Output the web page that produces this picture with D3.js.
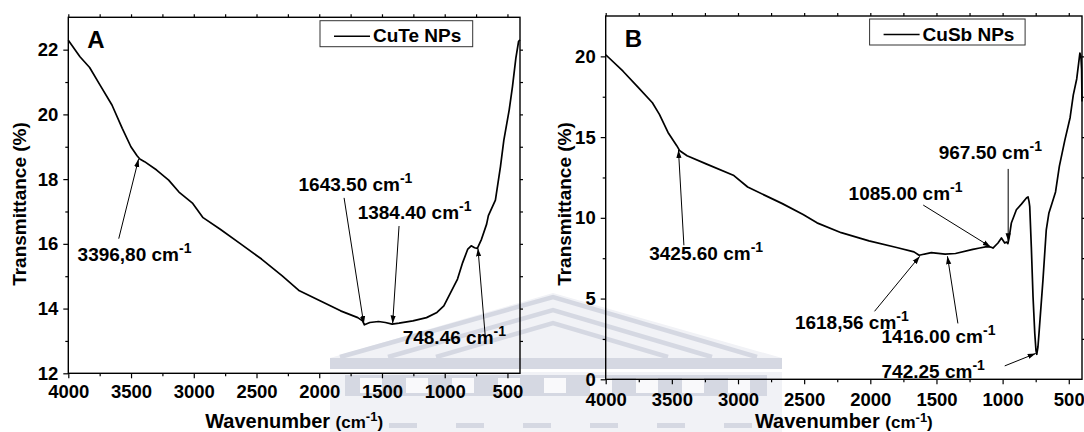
<!DOCTYPE html>
<html><head><meta charset="utf-8">
<script src="https://cdn.jsdelivr.net/npm/d3@7"></script>
<style>
html,body{margin:0;padding:0;background:#fff;}
svg{display:block;font-family:"Liberation Sans",Arial,sans-serif;font-weight:bold;}
</style></head><body>
<svg id="chart" width="1084" height="432"></svg>
<script>
// ---------- data ----------
const cuteWavenumber = [4000,3907,3830,3748,3652,3570,3501,3452,3430,3392,3296,3200,3118,3008,2926,2789,2624,2460,2295,2158,1994,1830,1693,1655,1640,1597,1528,1473,1419,1364,1254,1145,1062,1007,953,898,857,816,789,762,740,707,666,652,596,556,529,486,460,433,411,400];
const cuteTransmittance = [22.29,21.78,21.45,20.91,20.29,19.57,19.0,18.72,18.62,18.54,18.28,17.97,17.6,17.25,16.81,16.45,15.99,15.53,15.01,14.55,14.24,13.93,13.72,13.62,13.5,13.57,13.6,13.57,13.52,13.55,13.62,13.72,13.88,14.08,14.49,14.91,15.42,15.84,15.94,15.88,15.86,16.14,16.61,16.87,17.35,18.38,19.2,20.14,20.86,21.74,22.26,22.3];

const cusbWavenumber = [4000,3869,3751,3647,3594,3529,3463,3440,3385,3241,3031,2927,2796,2665,2508,2403,2220,2010,1801,1670,1631,1539,1435,1356,1225,1173,1120,1085,1073,1035,1009,984,970,960,950,934,896,858,820,808,800,795,783,770,757,748,742,733,723,695,670,650,623,600,571,530,490,466,440,425,416,408,403,400];
const cusbTransmittance = [20.1,19.08,18.05,17.13,16.41,15.29,14.47,14.15,13.85,13.34,12.62,11.91,11.39,10.88,10.2,9.69,9.08,8.57,8.16,7.89,7.68,7.85,7.75,7.79,8.05,8.13,8.22,8.18,8.13,8.44,8.75,8.44,8.5,8.4,8.8,9.68,10.5,10.85,11.23,11.3,11.0,10.7,8.2,5.1,2.85,1.8,1.55,2.0,3.06,6.16,9.26,10.3,11.0,11.6,13.2,14.8,16.2,17.6,18.6,19.6,20.2,20.0,19.2,17.2];

const wavenumberTicks = [4000,3500,3000,2500,2000,1500,1000,500];
const wavenumberMinorTicks = [3750,3250,2750,2250,1750,1250,750];
const cuteYTicks = [12,14,16,18,20,22];
const cuteYMinorTicks = [13,15,17,19,21];
const cusbYTicks = [0,5,10,15,20];
const cusbYMinorTicks = [2.5,7.5,12.5,17.5];

const seriesNames = ["CuTe NPs","CuSb NPs"];
const panelLetters = ["A","B"];

const cutePeakLabels = ["3396,80","1643.50","1384.40","748.46"];
const cutePeakTips = [[3440,18.62],[1645,13.52],[1415,13.54],[735,15.86]];
const cusbPeakLabels = ["3425.60","967.50","1085.00","1618,56","1416.00","742.25"];
const cusbPeakTips = [[3450,14.2],[958,8.55],[1090,8.2],[1626,7.62],[1417,7.62],[750,1.6]];

// ---------- layout (data units for label anchors and arrow tails) ----------
const cuteLabelLayout = [
  {tx:3926,ty:15.47,ax:3598,ay:16.16},
  {tx:2165,ty:17.63,ax:1802,ay:17.42},
  {tx:1694,ty:16.76,ax:1364,ay:16.55},
  {tx:1335,ty:12.92,ax:678,ay:13.19}
];
const cusbLabelLayout = [
  {tx:3671,ty:7.38,ax:3409,ay:8.3},
  {tx:1483,ty:13.63,ax:958,ay:13.03},
  {tx:2164,ty:11.09,ax:1600,ay:10.79},
  {tx:2570,ty:3.13,ax:1968,ay:4.21},
  {tx:1915,ty:2.27,ax:1338,ay:3.46},
  {tx:1915,ty:0.1,ax:984,ay:0.83}
];

const panels = [
  {left:68.3,right:520,top:17.3,bottom:373.3,yDomain:[12,23],yTicks:cuteYTicks,yMinor:cuteYMinorTicks,rightStep:1,
   xs:cuteWavenumber,ys:cuteTransmittance,name:seriesNames[0],letter:panelLetters[0],
   labels:cutePeakLabels,tips:cutePeakTips,layout:cuteLabelLayout,
   legend:{x:320,y:20.7,w:152.7,h:26},ytitleX:26,xPad:7,xTitleY:428,supDy:7},
  {left:605.7,right:1082,top:16,bottom:379.3,yDomain:[0,22.5],yTicks:cusbYTicks,yMinor:cusbYMinorTicks,rightStep:2.5,
   xs:cusbWavenumber,ys:cusbTransmittance,name:seriesNames[1],letter:panelLetters[1],
   labels:cusbPeakLabels,tips:cusbPeakTips,layout:cusbLabelLayout,
   legend:{x:869.6,y:19,w:155.5,h:26},ytitleX:571,xPad:8.5,xTitleY:428,supDy:6}
];

const svg = d3.select("#chart");

// ---------- faint watermark ----------
const wm = svg.append("g").attr("class","watermark");
const wmDark = "#d5d8e2", wmLight = "#f1f2f6";
wm.append("rect").attr("x",330).attr("y",372).attr("width",452).attr("height",60).attr("fill",wmLight);
wm.append("path").attr("d","M330,358 L553,293 L782,358 Z").attr("fill",wmLight);
[[297,340,757],[310,388,712],[323,436,668]].forEach(([ay,lx,rx])=>{
  wm.append("path").attr("d",`M${lx},357 L553,${ay} L${rx},357`).attr("fill","none")
    .attr("stroke",wmDark).attr("stroke-width",4.5);
});
wm.append("rect").attr("x",330).attr("y",358).attr("width",452).attr("height",11).attr("fill",wmDark);
wm.append("rect").attr("x",345).attr("y",375).attr("width",422).attr("height",21).attr("fill",wmDark);
d3.range(360,760,46).forEach(x=>{
  wm.append("rect").attr("x",x).attr("y",378).attr("width",22).attr("height",15).attr("fill","#f9f9fb");
});
d3.range(389,740,67).forEach(x=>{
  wm.append("rect").attr("x",x).attr("y",423).attr("width",28).attr("height",5).attr("fill",wmDark);
});

// ---------- panels ----------
const defs = svg.append("defs");
defs.append("marker").attr("id","arrow").attr("viewBox","0 -3 8 6").attr("refX",8).attr("refY",0)
  .attr("markerWidth",8).attr("markerHeight",6).attr("markerUnits","userSpaceOnUse").attr("orient","auto")
  .append("path").attr("d","M0,-2.6L8,0L0,2.6Z").attr("fill","#000");

const tickFont = 18.5;

panels.forEach(p=>{
  const x = d3.scaleLinear().domain([4000,400]).range([p.left,p.right]);
  const y = d3.scaleLinear().domain(p.yDomain).range([p.bottom,p.top]);
  const g = svg.append("g");

  // bottom axis
  g.append("g").attr("transform",`translate(0,${p.bottom})`)
    .call(d3.axisBottom(x).tickValues(wavenumberTicks).tickSize(5).tickPadding(p.xPad).tickFormat(d3.format("d")))
    .call(a=>a.select(".domain").remove())
    .call(a=>a.selectAll("text").attr("font-size",tickFont).attr("font-family","Liberation Sans, Arial").attr("font-weight","bold").attr("fill","#000"));
  g.append("g").attr("transform",`translate(0,${p.bottom})`)
    .call(d3.axisBottom(x).tickValues(wavenumberMinorTicks).tickSize(3).tickFormat(""))
    .call(a=>a.select(".domain").remove());
  // top axis ticks
  g.append("g").attr("transform",`translate(0,${p.top})`)
    .call(d3.axisTop(x).tickValues(wavenumberTicks.concat(wavenumberMinorTicks)).tickSize(3).tickFormat(""))
    .call(a=>a.select(".domain").remove());
  // left axis
  g.append("g").attr("transform",`translate(${p.left},0)`)
    .call(d3.axisLeft(y).tickValues(p.yTicks).tickSize(5).tickPadding(5).tickFormat(d3.format("d")))
    .call(a=>a.select(".domain").remove())
    .call(a=>a.selectAll("text").attr("font-size",tickFont).attr("font-family","Liberation Sans, Arial").attr("font-weight","bold").attr("fill","#000"));
  g.append("g").attr("transform",`translate(${p.left},0)`)
    .call(d3.axisLeft(y).tickValues(p.yMinor).tickSize(3).tickFormat(""))
    .call(a=>a.select(".domain").remove());
  // right axis ticks
  const rv = d3.range(p.yDomain[0], p.yDomain[1]+1e-6, p.rightStep).filter(v=>v>p.yDomain[0] && v<p.yDomain[1]);
  g.append("g").attr("transform",`translate(${p.right},0)`)
    .call(d3.axisRight(y).tickValues(rv).tickSize(3).tickFormat(""))
    .call(a=>a.select(".domain").remove());
  g.selectAll(".tick line").attr("stroke","#000").attr("stroke-width",1.2);

  // frame
  g.append("rect").attr("x",p.left).attr("y",p.top).attr("width",p.right-p.left).attr("height",p.bottom-p.top)
    .attr("fill","none").attr("stroke","#000").attr("stroke-width",1.4);

  // curve
  const pts = p.xs.map((w,i)=>[w,p.ys[i]]);
  g.append("path").datum(pts)
    .attr("d",d3.line().x(d=>x(d[0])).y(d=>y(d[1])))
    .attr("fill","none").attr("stroke","#000").attr("stroke-width",1.7).attr("stroke-linejoin","round");

  // annotations
  p.labels.forEach((lab,i)=>{
    const L = p.layout[i], T = p.tips[i];
    g.append("line").attr("x1",x(L.ax)).attr("y1",y(L.ay)).attr("x2",x(T[0])).attr("y2",y(T[1]))
      .attr("stroke","#000").attr("stroke-width",1).attr("marker-end","url(#arrow)");
    const t = g.append("text").attr("x",x(L.tx)).attr("y",y(L.ty)).attr("font-size",19).attr("fill","#000");
    t.append("tspan").text(lab+" cm");
    t.append("tspan").attr("font-size",14).attr("dy",-8).text("-1");
  });

  // panel letter
  g.append("text").attr("x",p.left+19).attr("y",p.top+31).attr("font-size",24).text(p.letter);

  // legend
  const lg = g.append("g");
  lg.append("rect").attr("x",p.legend.x).attr("y",p.legend.y).attr("width",p.legend.w).attr("height",p.legend.h)
    .attr("fill","#fff").attr("stroke","#333").attr("stroke-width",1);
  lg.append("line").attr("x1",p.legend.x+14).attr("x2",p.legend.x+50).attr("y1",p.legend.y+15.5).attr("y2",p.legend.y+15.5)
    .attr("stroke","#000").attr("stroke-width",1.5);
  lg.append("text").attr("x",p.legend.x+53).attr("y",p.legend.y+21.5).attr("font-size",19).text(p.name);

  // y title
  g.append("text").attr("transform",`translate(${p.ytitleX},204) rotate(-90)`).attr("text-anchor","middle")
    .attr("font-size",19).text("Transmittance (%)");

  // x title
  const xt = g.append("text").attr("x",(p.left+p.right)/2).attr("y",p.xTitleY).attr("text-anchor","middle").attr("font-size",20);
  xt.append("tspan").text("Wavenumber ");
  xt.append("tspan").attr("font-size",17).text("(cm");
  xt.append("tspan").attr("font-size",13).attr("dy",-p.supDy).text("-1");
  xt.append("tspan").attr("font-size",17).attr("dy",p.supDy).text(")");
});
</script>
</body></html>
